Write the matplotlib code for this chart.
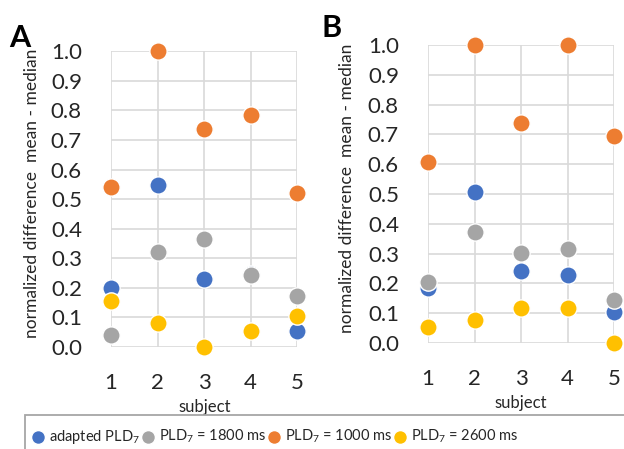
import matplotlib.pyplot as plt
from matplotlib.patches import Rectangle

plt.rcParams['font.family'] = ['Lato', 'DejaVu Sans']
plt.rcParams['mathtext.fontset'] = 'custom'
plt.rcParams['mathtext.rm'] = 'Lato'
plt.rcParams['mathtext.it'] = 'Lato:italic'

subjects = [1, 2, 3, 4, 5]

# panel A
a_adapted = [0.20, 0.547, 0.23, 0.247, 0.054]
a_1800 = [0.04, 0.32, 0.365, 0.245, 0.172]
a_1000 = [0.54, 1.0, 0.736, 0.784, 0.52]
a_2600 = [0.155, 0.08, 0.0, 0.054, 0.105]

# panel B
b_adapted = [0.185, 0.507, 0.242, 0.228, 0.104]
b_1800 = [0.205, 0.372, 0.302, 0.315, 0.144]
b_1000 = [0.607, 1.0, 0.738, 1.0, 0.695]
b_2600 = [0.054, 0.077, 0.117, 0.117, 0.0]

labels = ['adapted PLD$_7$', 'PLD$_7$ = 1800 ms', 'PLD$_7$ = 1000 ms', 'PLD$_7$ = 2600 ms']
colors = ['#4472C4', '#A5A5A5', '#ED7D31', '#FFC000']

fig = plt.figure(figsize=(6.24, 4.49), dpi=100)
axA = fig.add_axes([0.178, 0.227, 0.298, 0.659])
axB = fig.add_axes([0.686, 0.236, 0.298, 0.664])

panels = [(axA, [a_adapted, a_1800, a_1000, a_2600]),
          (axB, [b_adapted, b_1800, b_1000, b_2600])]

for ax, series in panels:
    for vals, c, lab in zip(series, colors, labels):
        ax.scatter(subjects, vals, s=155, color=c, edgecolors='white',
                   linewidths=1.0, label=lab, clip_on=False, zorder=3)
    ax.set_xlim(1, 5)
    ax.set_ylim(0, 1)
    ax.set_xticks(subjects)
    ax.set_yticks([i / 10 for i in range(11)])
    ax.set_yticklabels(['%.1f' % (i / 10) for i in range(11)])
    ax.grid(True, color='#D9D9D9', linewidth=1.2, zorder=0)
    ax.set_axisbelow(True)
    for sp in ax.spines.values():
        sp.set_visible(False)
    ax.tick_params(length=0, labelsize=16, colors='#262626')
    ax.tick_params(axis='y', pad=21)
    ax.tick_params(axis='x', pad=19)
    ax.set_ylabel('normalized difference  mean - median', fontsize=12.5, color='#262626')
    ax.set_xlabel('subject', fontsize=12, color='#262626')

axA.yaxis.set_label_coords(-0.382, 0.52)
axA.xaxis.set_label_coords(0.505, -0.175)
axB.yaxis.set_label_coords(-0.395, 0.52)
axB.xaxis.set_label_coords(0.5, -0.175)

fig.text(0.015, 0.915, 'A', fontsize=22, fontweight='bold', va='center')
fig.text(0.515, 0.937, 'B', fontsize=22, fontweight='bold', va='center')

# legend box runs off the right and bottom edges
fig.patches.append(Rectangle((25 / 624, -0.05), 1.0, (449 - 415) / 449 + 0.05,
                             transform=fig.transFigure, fill=False,
                             edgecolor='#A6A6A6', linewidth=1.3))

handles, labs = axA.get_legend_handles_labels()
leg = fig.legend(handles, labs, loc='center left', bbox_to_anchor=(0.035, 0.027),
                 ncol=4, fontsize=10.5, frameon=False,
                 handletextpad=0.35, columnspacing=0.15, handlelength=0.8,
                 borderpad=0.2, markerscale=0.8, labelcolor='#262626')

fig.savefig('out.png', dpi=100)
